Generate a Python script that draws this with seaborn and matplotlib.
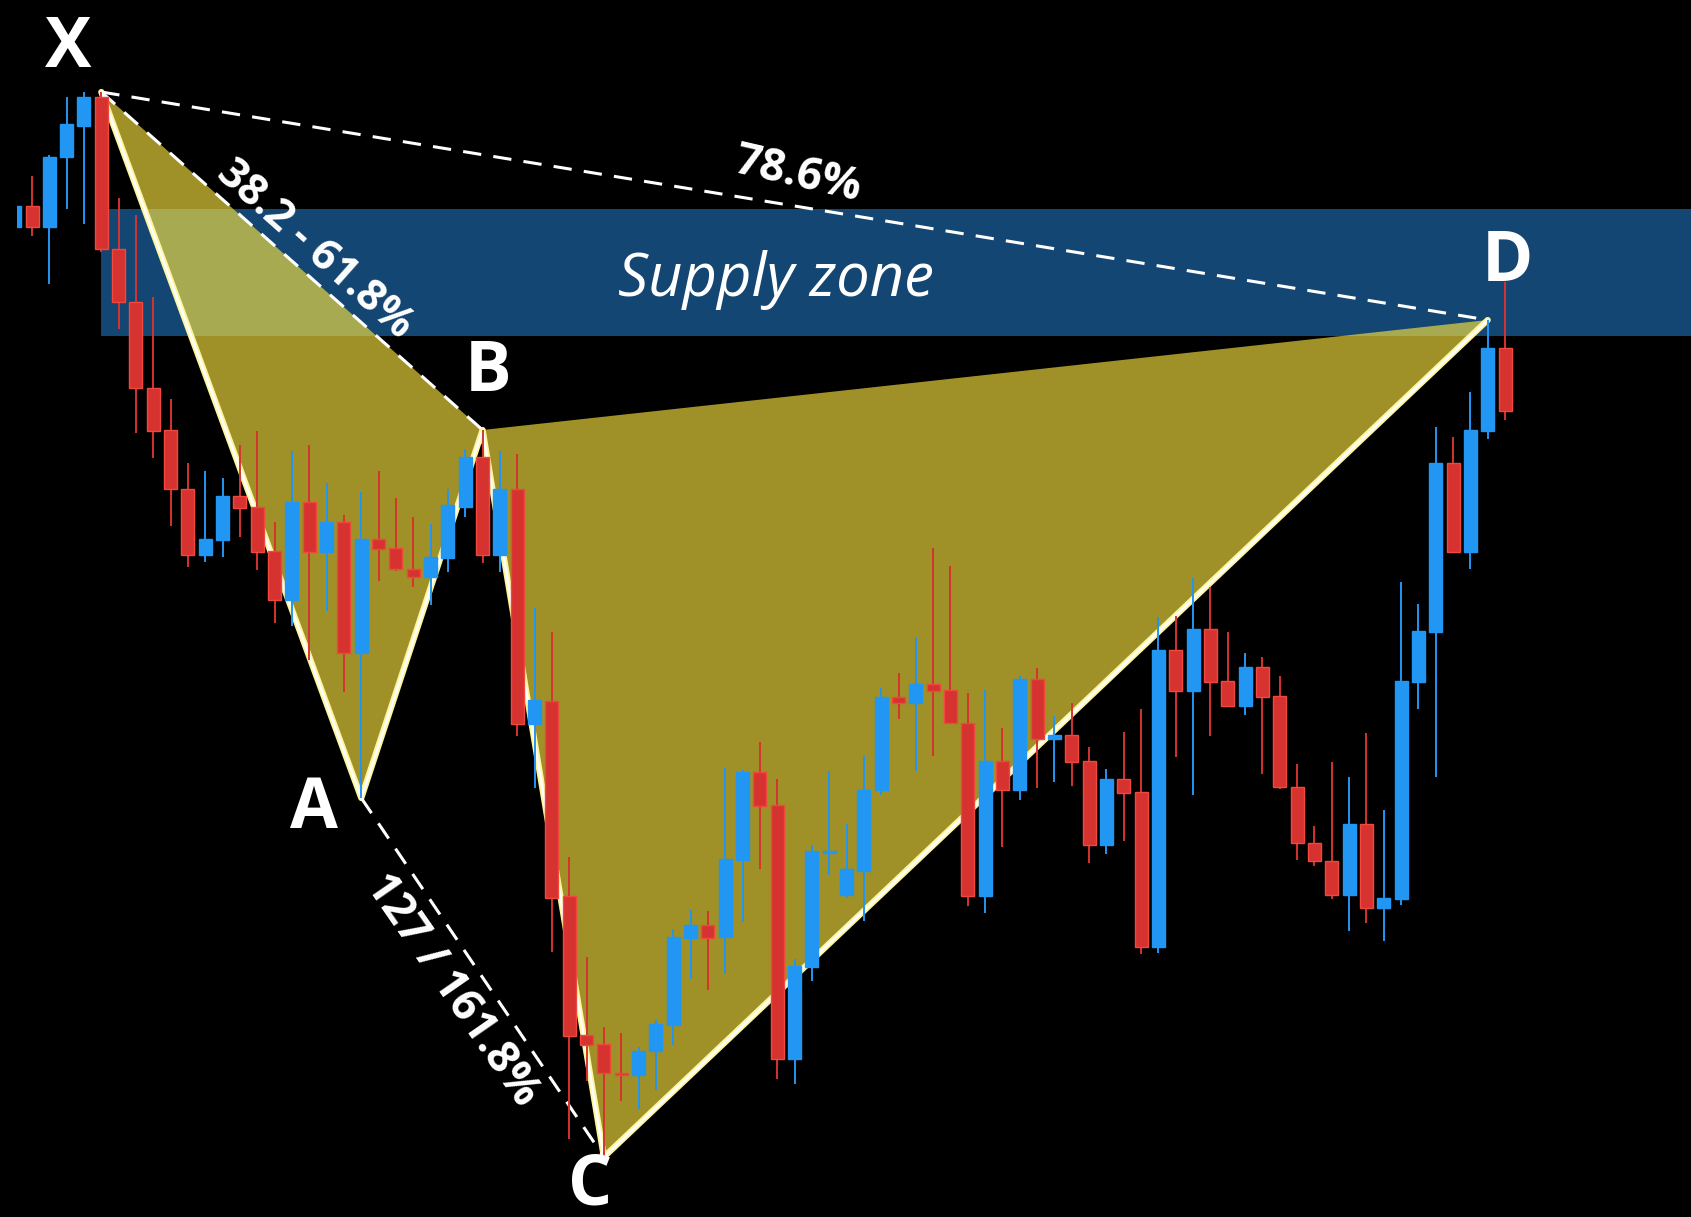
import numpy as np
import pandas as pd
import seaborn as sns
import matplotlib.pyplot as plt

# candle prices (oldest first)
opens = [990, 1011, 990, 1060, 1091, 1120, 968, 915, 829, 787,
         728, 662, 677, 721, 710, 666, 617, 715, 665, 695,
         564, 678, 669, 648, 640, 659, 710, 760, 662, 728,
         493, 516, 321, 182, 173, 144, 142, 166, 192, 279,
         292, 280, 357, 445, 412, 158, 250, 364, 322, 346,
         427, 520, 514, 533, 527, 494, 321, 456, 427, 538,
         478, 482, 456, 372, 438, 425, 270, 567, 526, 588,
         536, 511, 550, 521, 430, 374, 356, 322, 393, 309,
         318, 535, 585, 754, 665, 786, 869]
highs = [1011, 1041, 1062, 1120, 1125, 1125, 1019, 1002, 920, 818,
         754, 746, 739, 772, 786, 695, 766, 772, 734, 702,
         725, 746, 719, 700, 693, 728, 768, 787, 766, 763,
         609, 585, 360, 260, 190, 184, 170, 197, 288, 307,
         306, 449, 447, 475, 438, 258, 372, 446, 393, 461,
         529, 544, 579, 669, 651, 524, 527, 489, 541, 549,
         501, 514, 470, 448, 485, 508, 600, 601, 639, 630,
         585, 564, 560, 541, 453, 391, 455, 440, 484, 407,
         635, 613, 790, 780, 825, 897, 935]
lows = [990, 981, 933, 1008, 993, 965, 888, 784, 759, 691,
        650, 655, 660, 680, 647, 594, 591, 557, 606, 525,
        419, 636, 646, 630, 612, 645, 700, 654, 645, 481,
        429, 265, 78, 136, 60, 116, 108, 127, 172, 238,
        227, 243, 295, 348, 138, 133, 236, 342, 319, 296,
        422, 498, 446, 461, 493, 311, 304, 370, 417, 429,
        435, 431, 354, 363, 376, 263, 264, 460, 422, 481,
        510, 502, 443, 428, 357, 351, 318, 286, 294, 276,
        312, 508, 440, 665, 648, 778, 797]
closes = [1011, 990, 1060, 1093, 1120, 968, 915, 829, 786, 728,
          662, 678, 721, 709, 665, 617, 715, 665, 695, 564,
          678, 668, 648, 640, 660, 712, 760, 662, 728, 493,
          517, 319, 181, 172, 144, 142, 166, 193, 280, 292,
          279, 358, 445, 411, 158, 251, 366, 366, 348, 427,
          520, 514, 533, 526, 494, 321, 456, 427, 538, 478,
          482, 455, 372, 438, 424, 270, 567, 526, 588, 535,
          511, 550, 520, 430, 374, 356, 322, 393, 309, 319,
          536, 586, 754, 665, 787, 869, 806]

# harmonic pattern pivots: candle index and whether it is a high or a low
pivot_names = ["X", "A", "B", "C", "D"]
pivot_index = [5, 20, 27, 34, 85]
pivot_is_high = [True, False, True, False, True]

# supply zone price band
zone_low, zone_high = 881, 1008

df = pd.DataFrame({"o": opens, "h": highs, "l": lows, "c": closes})
df["i"] = np.arange(len(df))
df["up"] = df["c"] >= df["o"]

blue = "#2196f3"
red = "#d63330"
red_edge = "#f0483c"
olive = "#fee63f"
zone_col = "#134672"

sns.set_theme(style="dark", rc={"axes.facecolor": "black", "figure.facecolor": "black"})

fig = plt.figure(figsize=(16.91, 12.17), dpi=100)
ax = fig.add_axes([17 / 1691, 0, 1 - 17 / 1691, 1])
ax.set_xlim(0.134, 96.73)
ax.set_ylim(0, 1217)
ax.axis("off")

# supply zone
ax.fill_between([pivot_index[0], 200], zone_low, zone_high, color=zone_col, lw=0, zorder=1)

px = np.array(pivot_index)
py = np.array([df["h"][i] if hi else df["l"][i] for i, hi in zip(pivot_index, pivot_is_high)])

# pattern triangles
ax.fill(px[[0, 1, 2]], py[[0, 1, 2]], color=olive, alpha=0.63, lw=0, zorder=2)
ax.fill(px[[2, 3, 4]], py[[2, 3, 4]], color=olive, alpha=0.63, lw=0, zorder=2)

path = pd.DataFrame({"x": px, "y": py})
sns.lineplot(data=path, x="x", y="y", sort=False, color="#fff59d", lw=4.5, ax=ax, zorder=3)
sns.lineplot(data=path, x="x", y="y", sort=False, color="white", lw=1.8, ax=ax, zorder=3)

# dashed retracement lines
for a, b in [(0, 2), (0, 4), (1, 3)]:
    ax.plot(px[[a, b]], py[[a, b]], color="white", lw=2.2, dashes=(6, 4), zorder=4)

# candles
cols = np.where(df["up"], blue, red)
edges = np.where(df["up"], blue, red_edge)
ax.vlines(df["i"], df["l"], df["h"], colors=cols, lw=1.4, zorder=5)
body_lo = df[["o", "c"]].min(axis=1)
body_hi = df[["o", "c"]].max(axis=1)
ax.bar(df["i"], np.maximum(body_hi - body_lo, 2), bottom=body_lo, width=0.75,
       color=cols, edgecolor=edges, lw=1.0, zorder=6)

# pivot letters
offsets = [(-24, 31), (-34, -9), (4, 41), (-10, -21), (14, 41)]
for name, x, y, off in zip(pivot_names, px, py, offsets):
    ax.annotate(name, (x, y), xytext=off, textcoords="offset points", ha="center", va="center",
                color="white", fontsize=50, fontweight="bold", family="Open Sans", zorder=8)

ax.text(17.3, 968, "38.2 - 61.8%", rotation=-41.6, ha="center", va="center", color="white",
        fontsize=31, fontweight="bold", family="Open Sans", zorder=8)
ax.text(45.2, 1042, "78.6%", rotation=-13, ha="center", va="center", color="white",
        fontsize=32, fontweight="bold", family="Open Sans", zorder=8)
ax.text(25.2, 227, "127 / 161.8%", rotation=-55.3, ha="center", va="center", color="white",
        fontsize=32, fontweight="bold", family="Open Sans", zorder=8)
ax.text(43.9, 937, "Supply zone", ha="center", va="center", color="white",
        fontsize=43, style="italic", family="Open Sans", zorder=8)

fig.savefig("out.png", dpi=100, facecolor="black")
